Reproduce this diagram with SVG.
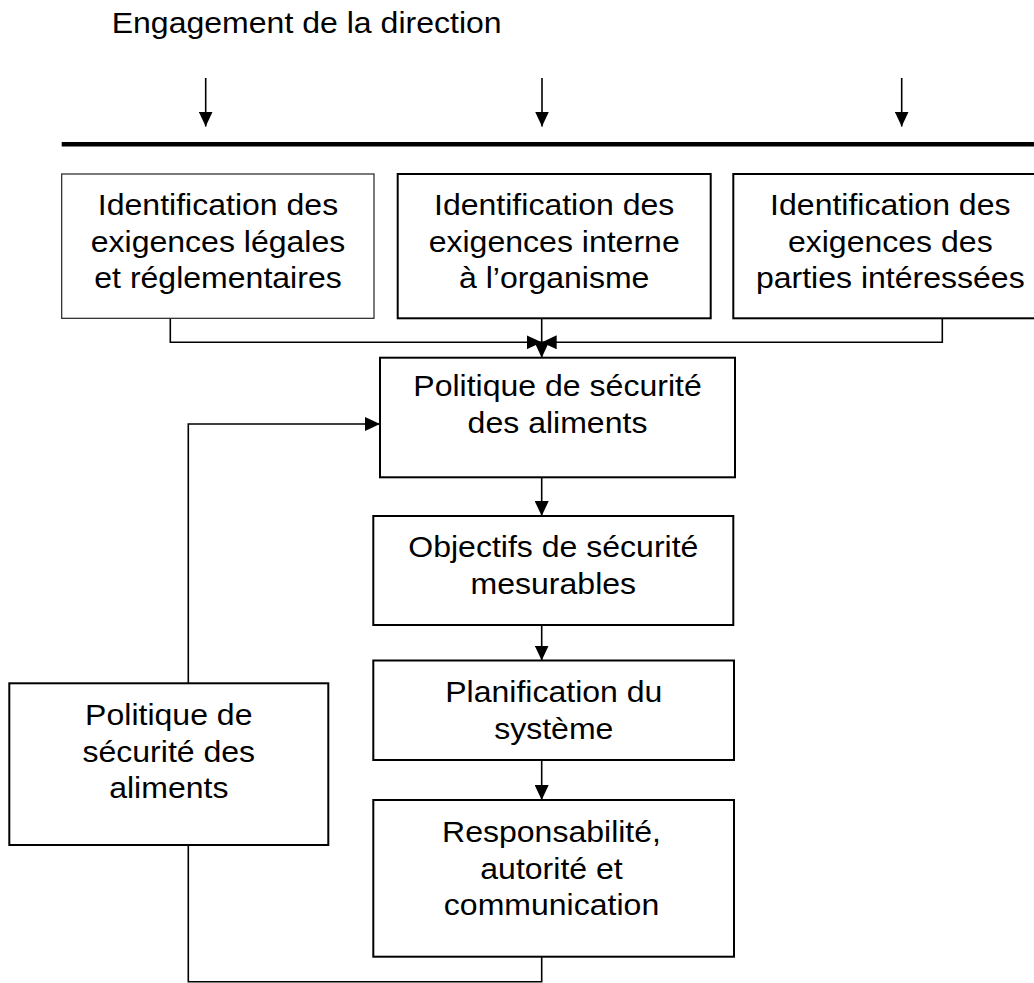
<svg xmlns="http://www.w3.org/2000/svg" width="1034" height="983" viewBox="0 0 1034 983">
  <style>
    .box { fill: #fff; stroke: #000; stroke-width: 2; }
    .box.thin { stroke: #222; stroke-width: 1.2; }
    .lbl { font-family: "Liberation Sans", Arial, sans-serif; font-size: 28.6px; fill: #000; text-anchor: middle; }
    .title { text-anchor: start; }
    .wire { fill: none; stroke: #000; stroke-width: 1.6; }
    .arrow { marker-end: url(#head); }
    .bar { stroke: #000; stroke-width: 4.6; }
  </style>
  <defs>
    <marker id="head" viewBox="0 0 15 14" refX="15" refY="7" markerWidth="15" markerHeight="14" markerUnits="userSpaceOnUse" orient="auto">
      <path d="M0,0 L15,7 L0,14 z" fill="#000"/>
    </marker>
  </defs>
  <rect width="1034" height="983" fill="#fff"/>

  <!-- heading -->
  <g id="heading" transform="translate(111.7 0) scale(1.12 1)">
    <text class="lbl title" x="0" y="33.5">Engagement de la direction</text>
  </g>

  <!-- commitment arrows and bar -->
  <g id="commitment">
    <line class="wire arrow" x1="205.7" y1="78" x2="205.7" y2="126.5"/>
    <line class="wire arrow" x1="542" y1="78" x2="542" y2="126.5"/>
    <line class="wire arrow" x1="901.7" y1="78" x2="901.7" y2="126.5"/>
    <line class="bar" x1="61.7" y1="144.2" x2="1034" y2="144.2"/>
  </g>

  <!-- connectors -->
  <g id="connectors">
    <polyline class="wire arrow" points="170.3,318.3 170.3,342.3 541.7,342.3"/>
    <polyline class="wire arrow" points="942.3,318.3 942.3,342.3 541.7,342.3"/>
    <line class="wire arrow" x1="541.7" y1="318.3" x2="541.7" y2="357.7"/>
    <line class="wire arrow" x1="541.7" y1="477.3" x2="541.7" y2="516"/>
    <line class="wire arrow" x1="541.7" y1="625" x2="541.7" y2="660.5"/>
    <line class="wire arrow" x1="541.7" y1="760" x2="541.7" y2="800"/>
    <polyline class="wire arrow" points="188.3,683.3 188.3,424 380,424"/>
    <polyline class="wire" points="541.7,956.7 541.7,981.7 188.3,981.7 188.3,845"/>
  </g>

  <g id="req-legal">
    <rect class="box thin" x="61.7" y="174" width="312.3" height="144.3"/>
    <g transform="translate(218 0) scale(1.12 1)">
      <text class="lbl" x="0" y="215">Identification des</text>
      <text class="lbl" x="0" y="251.7">exigences légales</text>
      <text class="lbl" x="0" y="288.4">et réglementaires</text>
    </g>
  </g>

  <g id="req-internal">
    <rect class="box" x="397.7" y="174" width="313" height="144.3"/>
    <g transform="translate(554.2 0) scale(1.12 1)">
      <text class="lbl" x="0" y="215">Identification des</text>
      <text class="lbl" x="0" y="251.7">exigences interne</text>
      <text class="lbl" x="0" y="288.4">à l’organisme</text>
    </g>
  </g>

  <g id="req-parties">
    <rect class="box" x="733.3" y="174" width="313.7" height="144.3"/>
    <g transform="translate(890.3 0) scale(1.12 1)">
      <text class="lbl" x="0" y="215">Identification des</text>
      <text class="lbl" x="0" y="251.7">exigences des</text>
      <text class="lbl" x="0" y="288.4">parties intéressées</text>
    </g>
  </g>

  <g id="policy">
    <rect class="box" x="380" y="357.7" width="355" height="119.6"/>
    <g transform="translate(557.5 0) scale(1.12 1)">
      <text class="lbl" x="0" y="396">Politique de sécurité</text>
      <text class="lbl" x="0" y="433">des aliments</text>
    </g>
  </g>

  <g id="objectives">
    <rect class="box" x="373.3" y="516" width="360" height="109"/>
    <g transform="translate(553.3 0) scale(1.12 1)">
      <text class="lbl" x="0" y="557">Objectifs de sécurité</text>
      <text class="lbl" x="0" y="594">mesurables</text>
    </g>
  </g>

  <g id="planning">
    <rect class="box" x="373.3" y="660.5" width="360.7" height="99.5"/>
    <g transform="translate(553.8 0) scale(1.12 1)">
      <text class="lbl" x="0" y="702">Planification du</text>
      <text class="lbl" x="0" y="739">système</text>
    </g>
  </g>

  <g id="responsibility">
    <rect class="box" x="373.3" y="800" width="360.7" height="156.7"/>
    <g transform="translate(551.5 0) scale(1.12 1)">
      <text class="lbl" x="0" y="842">Responsabilité,</text>
      <text class="lbl" x="0" y="878.7">autorité et</text>
      <text class="lbl" x="0" y="915.4">communication</text>
    </g>
  </g>

  <g id="policy-review">
    <rect class="box" x="9.3" y="683.3" width="319" height="161.7"/>
    <g transform="translate(168.8 0) scale(1.12 1)">
      <text class="lbl" x="0" y="725">Politique de</text>
      <text class="lbl" x="0" y="761.7">sécurité des</text>
      <text class="lbl" x="0" y="798.4">aliments</text>
    </g>
  </g>
</svg>
